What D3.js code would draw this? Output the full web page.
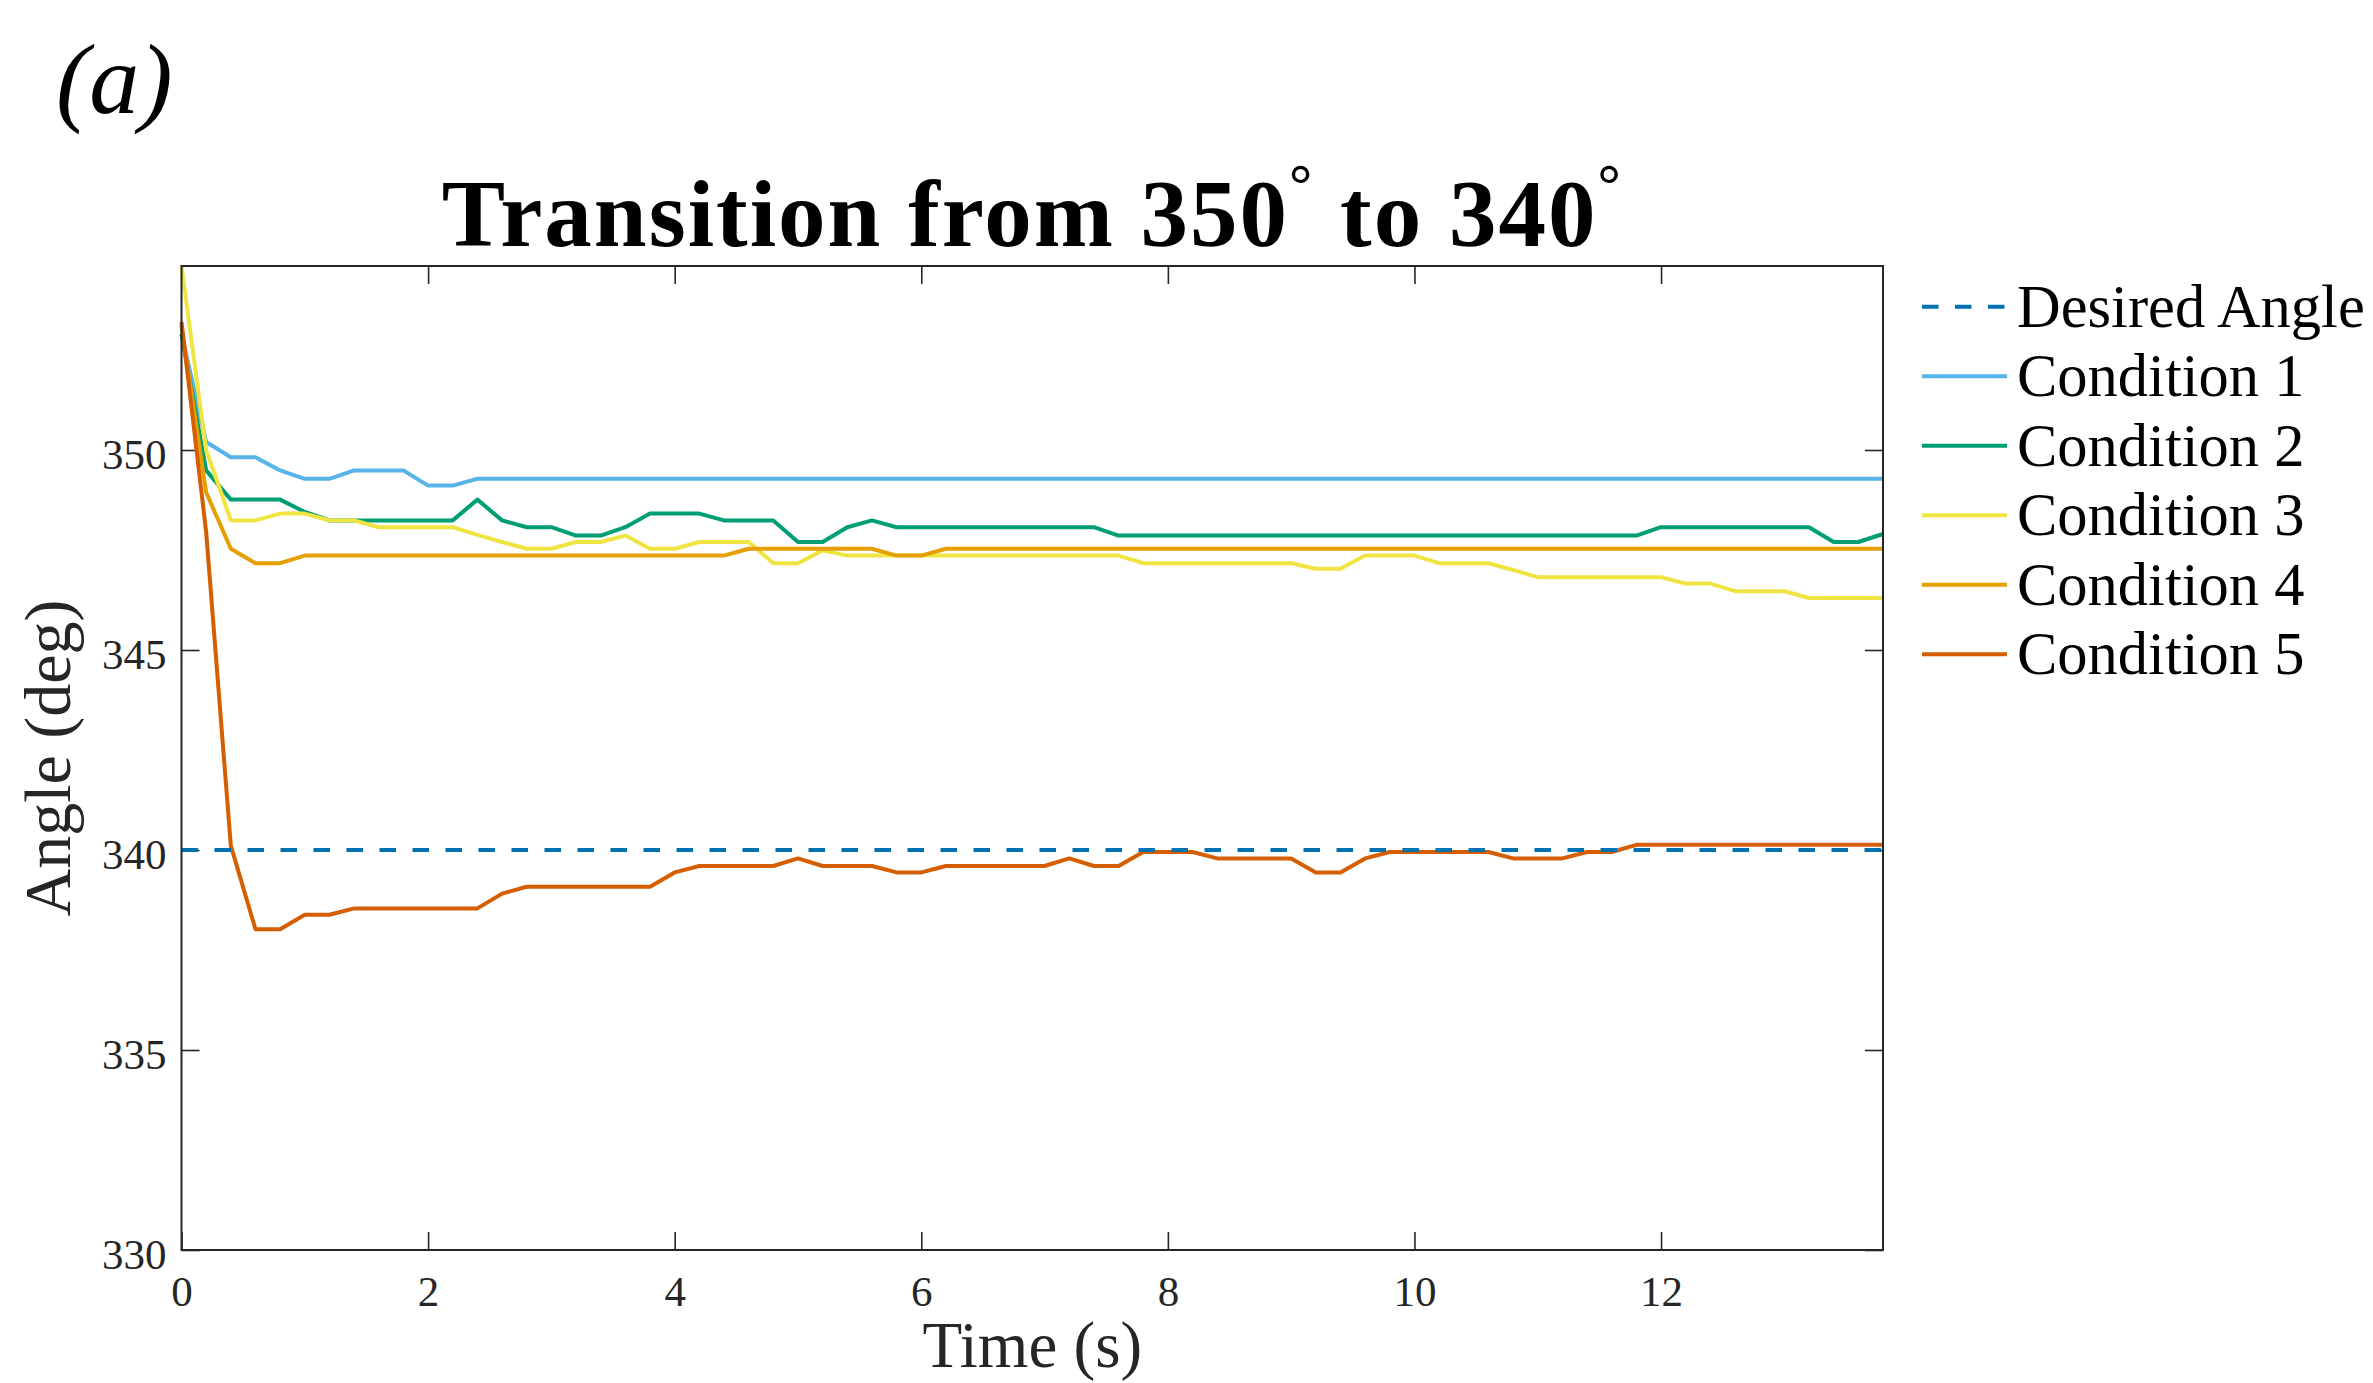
<!DOCTYPE html>
<html>
<head>
<meta charset="utf-8">
<script src="https://cdn.jsdelivr.net/npm/d3@7"></script>
<style>
  html, body { margin: 0; padding: 0; background: #fff; }
  svg { display: block; font-family: 'Liberation Serif', 'Times New Roman', serif; }
  .tick line { stroke: #262626; stroke-width: 1.6; }
  .tick text { fill: #262626; font-size: 43px; }
</style>
</head>
<body>
<svg id="chart" width="2373" height="1383"></svg>
<script>
// sample times (s)
const time = [
  0, 0.2, 0.4, 0.6, 0.8, 1, 1.2, 1.4, 1.6, 1.8,
  2, 2.2, 2.4, 2.6, 2.8, 3, 3.2, 3.4, 3.6, 3.8,
  4, 4.2, 4.4, 4.6, 4.8, 5, 5.2, 5.4, 5.6, 5.8,
  6, 6.2, 6.4, 6.6, 6.8, 7, 7.2, 7.4, 7.6, 7.8,
  8, 8.2, 8.4, 8.6, 8.8, 9, 9.2, 9.4, 9.6, 9.8,
  10, 10.2, 10.4, 10.6, 10.8, 11, 11.2, 11.4, 11.6, 11.8,
  12, 12.2, 12.4, 12.6, 12.8, 13, 13.2, 13.4, 13.6, 13.8
];

const desiredAngle = 340;

const condition1 = [
  352.9, 350.2, 349.82, 349.82, 349.49, 349.28, 349.28, 349.49, 349.49, 349.49,
  349.11, 349.11, 349.28, 349.28, 349.28, 349.28, 349.28, 349.28, 349.28, 349.28,
  349.28, 349.28, 349.28, 349.28, 349.28, 349.28, 349.28, 349.28, 349.28, 349.28,
  349.28, 349.28, 349.28, 349.28, 349.28, 349.28, 349.28, 349.28, 349.28, 349.28,
  349.28, 349.28, 349.28, 349.28, 349.28, 349.28, 349.28, 349.28, 349.28, 349.28,
  349.28, 349.28, 349.28, 349.28, 349.28, 349.28, 349.28, 349.28, 349.28, 349.28,
  349.28, 349.28, 349.28, 349.28, 349.28, 349.28, 349.28, 349.28, 349.28, 349.28
];

const condition2 = [
  352.9, 349.49, 348.76, 348.76, 348.76, 348.45, 348.24, 348.24, 348.24, 348.24,
  348.24, 348.24, 348.76, 348.24, 348.07, 348.07, 347.86, 347.86, 348.07, 348.41,
  348.41, 348.41, 348.24, 348.24, 348.24, 347.70, 347.70, 348.07, 348.24, 348.07,
  348.07, 348.07, 348.07, 348.07, 348.07, 348.07, 348.07, 348.07, 347.86, 347.86,
  347.86, 347.86, 347.86, 347.86, 347.86, 347.86, 347.86, 347.86, 347.86, 347.86,
  347.86, 347.86, 347.86, 347.86, 347.86, 347.86, 347.86, 347.86, 347.86, 347.86,
  348.07, 348.07, 348.07, 348.07, 348.07, 348.07, 348.07, 347.70, 347.70, 347.90
];

const condition3 = [
  354.6, 350.0, 348.24, 348.24, 348.41, 348.41, 348.24, 348.24, 348.07, 348.07,
  348.07, 348.07, 347.88, 347.70, 347.53, 347.53, 347.70, 347.70, 347.86, 347.53,
  347.53, 347.70, 347.70, 347.70, 347.17, 347.17, 347.49, 347.36, 347.36, 347.36,
  347.36, 347.36, 347.36, 347.36, 347.36, 347.36, 347.36, 347.36, 347.36, 347.17,
  347.17, 347.17, 347.17, 347.17, 347.17, 347.17, 347.03, 347.03, 347.36, 347.36,
  347.36, 347.17, 347.17, 347.17, 347.0, 346.82, 346.82, 346.82, 346.82, 346.82,
  346.82, 346.66, 346.66, 346.47, 346.47, 346.47, 346.30, 346.30, 346.30, 346.30
];

const condition4 = [
  353.1, 348.94, 347.53, 347.17, 347.17, 347.36, 347.36, 347.36, 347.36, 347.36,
  347.36, 347.36, 347.36, 347.36, 347.36, 347.36, 347.36, 347.36, 347.36, 347.36,
  347.36, 347.36, 347.36, 347.53, 347.53, 347.53, 347.53, 347.53, 347.53, 347.36,
  347.36, 347.53, 347.53, 347.53, 347.53, 347.53, 347.53, 347.53, 347.53, 347.53,
  347.53, 347.53, 347.53, 347.53, 347.53, 347.53, 347.53, 347.53, 347.53, 347.53,
  347.53, 347.53, 347.53, 347.53, 347.53, 347.53, 347.53, 347.53, 347.53, 347.53,
  347.53, 347.53, 347.53, 347.53, 347.53, 347.53, 347.53, 347.53, 347.53, 347.53
];

const condition5 = [
  353.2, 347.95, 340.11, 338.02, 338.02, 338.38, 338.38, 338.54, 338.54, 338.54,
  338.54, 338.54, 338.54, 338.91, 339.08, 339.08, 339.08, 339.08, 339.08, 339.08,
  339.44, 339.60, 339.60, 339.60, 339.60, 339.79, 339.60, 339.60, 339.60, 339.44,
  339.44, 339.60, 339.60, 339.60, 339.60, 339.60, 339.79, 339.60, 339.60, 339.95,
  339.95, 339.95, 339.79, 339.79, 339.79, 339.79, 339.44, 339.44, 339.79, 339.95,
  339.95, 339.95, 339.95, 339.95, 339.79, 339.79, 339.79, 339.95, 339.95, 340.13,
  340.13, 340.13, 340.13, 340.13, 340.13, 340.13, 340.13, 340.13, 340.13, 340.13
];

const seriesNames = ['Condition 1', 'Condition 2', 'Condition 3', 'Condition 4', 'Condition 5'];
const seriesValues = [condition1, condition2, condition3, condition4, condition5];
const seriesColors = ['#56B4E9', '#009E73', '#F0E442', '#E69F00', '#D55E00'];
const desiredColor = '#0072B2';

const xTicks = [0, 2, 4, 6, 8, 10, 12];
const yTicks = [330, 335, 340, 345, 350];

// plot box (MATLAB-style axes, tight limits)
const boxL = 181.5, boxR = 1883, boxT = 266, boxB = 1250;

const x = d3.scaleLinear().domain([0, 13.8]).range([boxL, boxR]);
const y = d3.scaleLinear().domain([330, 354.6]).range([boxB, boxT]);

const svg = d3.select('#chart');
svg.append('rect').attr('width', 2373).attr('height', 1383).attr('fill', '#fff');

// ── axes: ticks point inward on all four sides ──
svg.append('g')
  .attr('transform', `translate(0,${boxB})`)
  .call(d3.axisBottom(x).tickValues(xTicks).tickSizeInner(-18).tickSizeOuter(0).tickPadding(25))
  .call(g => g.select('.domain').remove())
  .call(g => g.selectAll('text').attr('font-family', 'Liberation Serif').attr('font-size', 43));

svg.append('g')
  .attr('transform', `translate(0,${boxT})`)
  .call(d3.axisTop(x).tickValues(xTicks).tickSizeInner(-18).tickSizeOuter(0).tickFormat(''))
  .call(g => g.select('.domain').remove());

svg.append('g')
  .attr('transform', `translate(${boxL},0)`)
  .call(d3.axisLeft(y).tickValues(yTicks).tickSizeInner(-18).tickSizeOuter(0).tickPadding(15))
  .call(g => g.select('.domain').remove())
  .call(g => g.selectAll('text').attr('dy', '0.42em').attr('font-family', 'Liberation Serif').attr('font-size', 43));

svg.append('g')
  .attr('transform', `translate(${boxR},0)`)
  .call(d3.axisRight(y).tickValues(yTicks).tickSizeInner(-18).tickSizeOuter(0).tickFormat(''))
  .call(g => g.select('.domain').remove());

// ── data lines ──
const plot = svg.append('g');
const line = d3.line()
  .x((d, i) => x(time[i]))
  .y(d => y(d));

seriesValues.forEach((vals, k) => {
  plot.append('path')
    .datum(vals)
    .attr('d', line)
    .attr('fill', 'none')
    .attr('stroke', seriesColors[k])
    .attr('stroke-width', 4)
    .attr('stroke-linejoin', 'round');
});

plot.append('line')
  .attr('x1', x(time[0])).attr('x2', x(time[time.length - 1]))
  .attr('y1', y(desiredAngle)).attr('y2', y(desiredAngle))
  .attr('stroke', desiredColor)
  .attr('stroke-width', 4)
  .attr('stroke-dasharray', '16.5,16.5');

// box
svg.append('rect')
  .attr('x', boxL).attr('y', boxT)
  .attr('width', boxR - boxL).attr('height', boxB - boxT)
  .attr('fill', 'none')
  .attr('stroke', '#262626')
  .attr('stroke-width', 2);

// ── text ──
svg.append('text')
  .attr('x', 56).attr('y', 113)
  .attr('font-size', 100)
  .attr('font-style', 'italic')
  .attr('fill', '#000')
  .text('(a)');

const title = svg.append('text')
  .attr('x', (boxL + boxR) / 2).attr('y', 246)
  .attr('text-anchor', 'middle')
  .attr('font-size', 95)
  .attr('font-weight', 'bold')
  .attr('letter-spacing', 2)
  .attr('fill', '#000');
title.append('tspan').text('Transition from 350');
title.append('tspan').attr('font-size', 58).attr('dy', -42).text('°');
title.append('tspan').attr('dy', 42).text(' to 340');
title.append('tspan').attr('font-size', 58).attr('dy', -42).text('°');

svg.append('text')
  .attr('x', (boxL + boxR) / 2).attr('y', 1367)
  .attr('text-anchor', 'middle')
  .attr('font-size', 65)
  .attr('fill', '#262626')
  .text('Time (s)');

svg.append('text')
  .attr('transform', `translate(70,${(boxT + boxB) / 2}) rotate(-90)`)
  .attr('text-anchor', 'middle')
  .attr('font-size', 66)
  .attr('fill', '#262626')
  .text('Angle (deg)');

// ── legend ──
const legendItems = [{ name: 'Desired Angle', color: desiredColor, dash: '16.5,16.5' }]
  .concat(seriesNames.map((n, i) => ({ name: n, color: seriesColors[i], dash: null })));

const legend = svg.append('g').attr('transform', 'translate(1922,306.7)');
const rowH = 69.5;
legendItems.forEach((item, i) => {
  const row = legend.append('g').attr('transform', `translate(0,${i * rowH})`);
  row.append('line')
    .attr('x1', 0).attr('x2', 85)
    .attr('stroke', item.color)
    .attr('stroke-width', 4)
    .attr('stroke-dasharray', item.dash);
  row.append('text')
    .attr('x', 95).attr('y', 20)
    .attr('font-size', 60.5)
    .attr('fill', '#000')
    .text(item.name);
});
</script>
</body>
</html>
